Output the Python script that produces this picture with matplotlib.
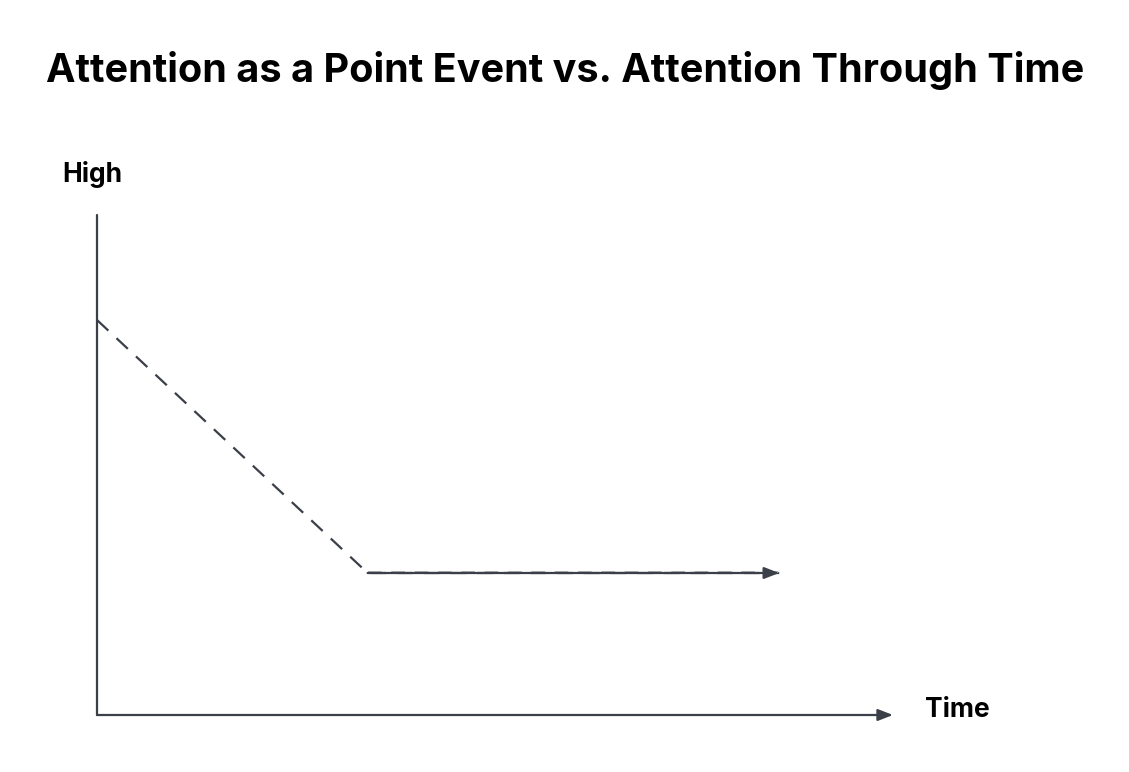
import matplotlib
matplotlib.use('Agg')
from matplotlib import pyplot as plt

# attention curve (time in %, attention in %)
time_pts = [0, 34.0, 85.7]
attention = [79, 28.4, 28.4]
axis_x_end = 100
axis_y_end = 100

ink = '#3a3f48'

plt.rcParams['font.family'] = ['Inter', 'DejaVu Sans']

fig = plt.figure(figsize=(11.29, 7.72), dpi=100)
ax = fig.add_axes([97 / 1129, (772 - 715) / 772, 796 / 1129, 500 / 772])
ax.set_xlim(0, axis_x_end)
ax.set_ylim(0, axis_y_end)
ax.axis('off')

# axes lines
ax.plot([0, 0], [0, axis_y_end], color=ink, lw=1.6, solid_capstyle='round', clip_on=False)
ax.annotate('', xy=(axis_x_end, 0), xytext=(0, 0),
            arrowprops=dict(arrowstyle='-|>,head_length=0.9,head_width=0.35', color=ink, lw=1.6,
                            shrinkA=0, shrinkB=0), annotation_clip=False)

# dashed attention line, solid overlay on the flat part
ax.plot(time_pts, attention, color=ink, lw=1.6, dashes=(7, 5), clip_on=False)
ax.plot(time_pts[1:], [a + 0.25 for a in attention[1:]], color='#aaadb2', lw=1.4,
        dashes=(7, 5), clip_on=False)
ax.annotate('', xy=(time_pts[2], attention[2]), xytext=(time_pts[1], attention[1]),
            arrowprops=dict(arrowstyle='-|>,head_length=0.9,head_width=0.35', color=ink, lw=1.6,
                            shrinkA=0, shrinkB=0), annotation_clip=False)

fig.text(565 / 1129, 1 - 70 / 772, 'Attention as a Point Event vs. Attention Through Time',
         ha='center', va='center', fontsize=28.5, fontweight='bold', color='black')
fig.text(62 / 1129, 1 - 175 / 772, 'High', ha='left', va='center', fontsize=19, fontweight='bold')
fig.text(925 / 1129, 1 - 710 / 772, 'Time', ha='left', va='center', fontsize=19, fontweight='bold')

plt.savefig('out.png', dpi=100)
plt.close()
